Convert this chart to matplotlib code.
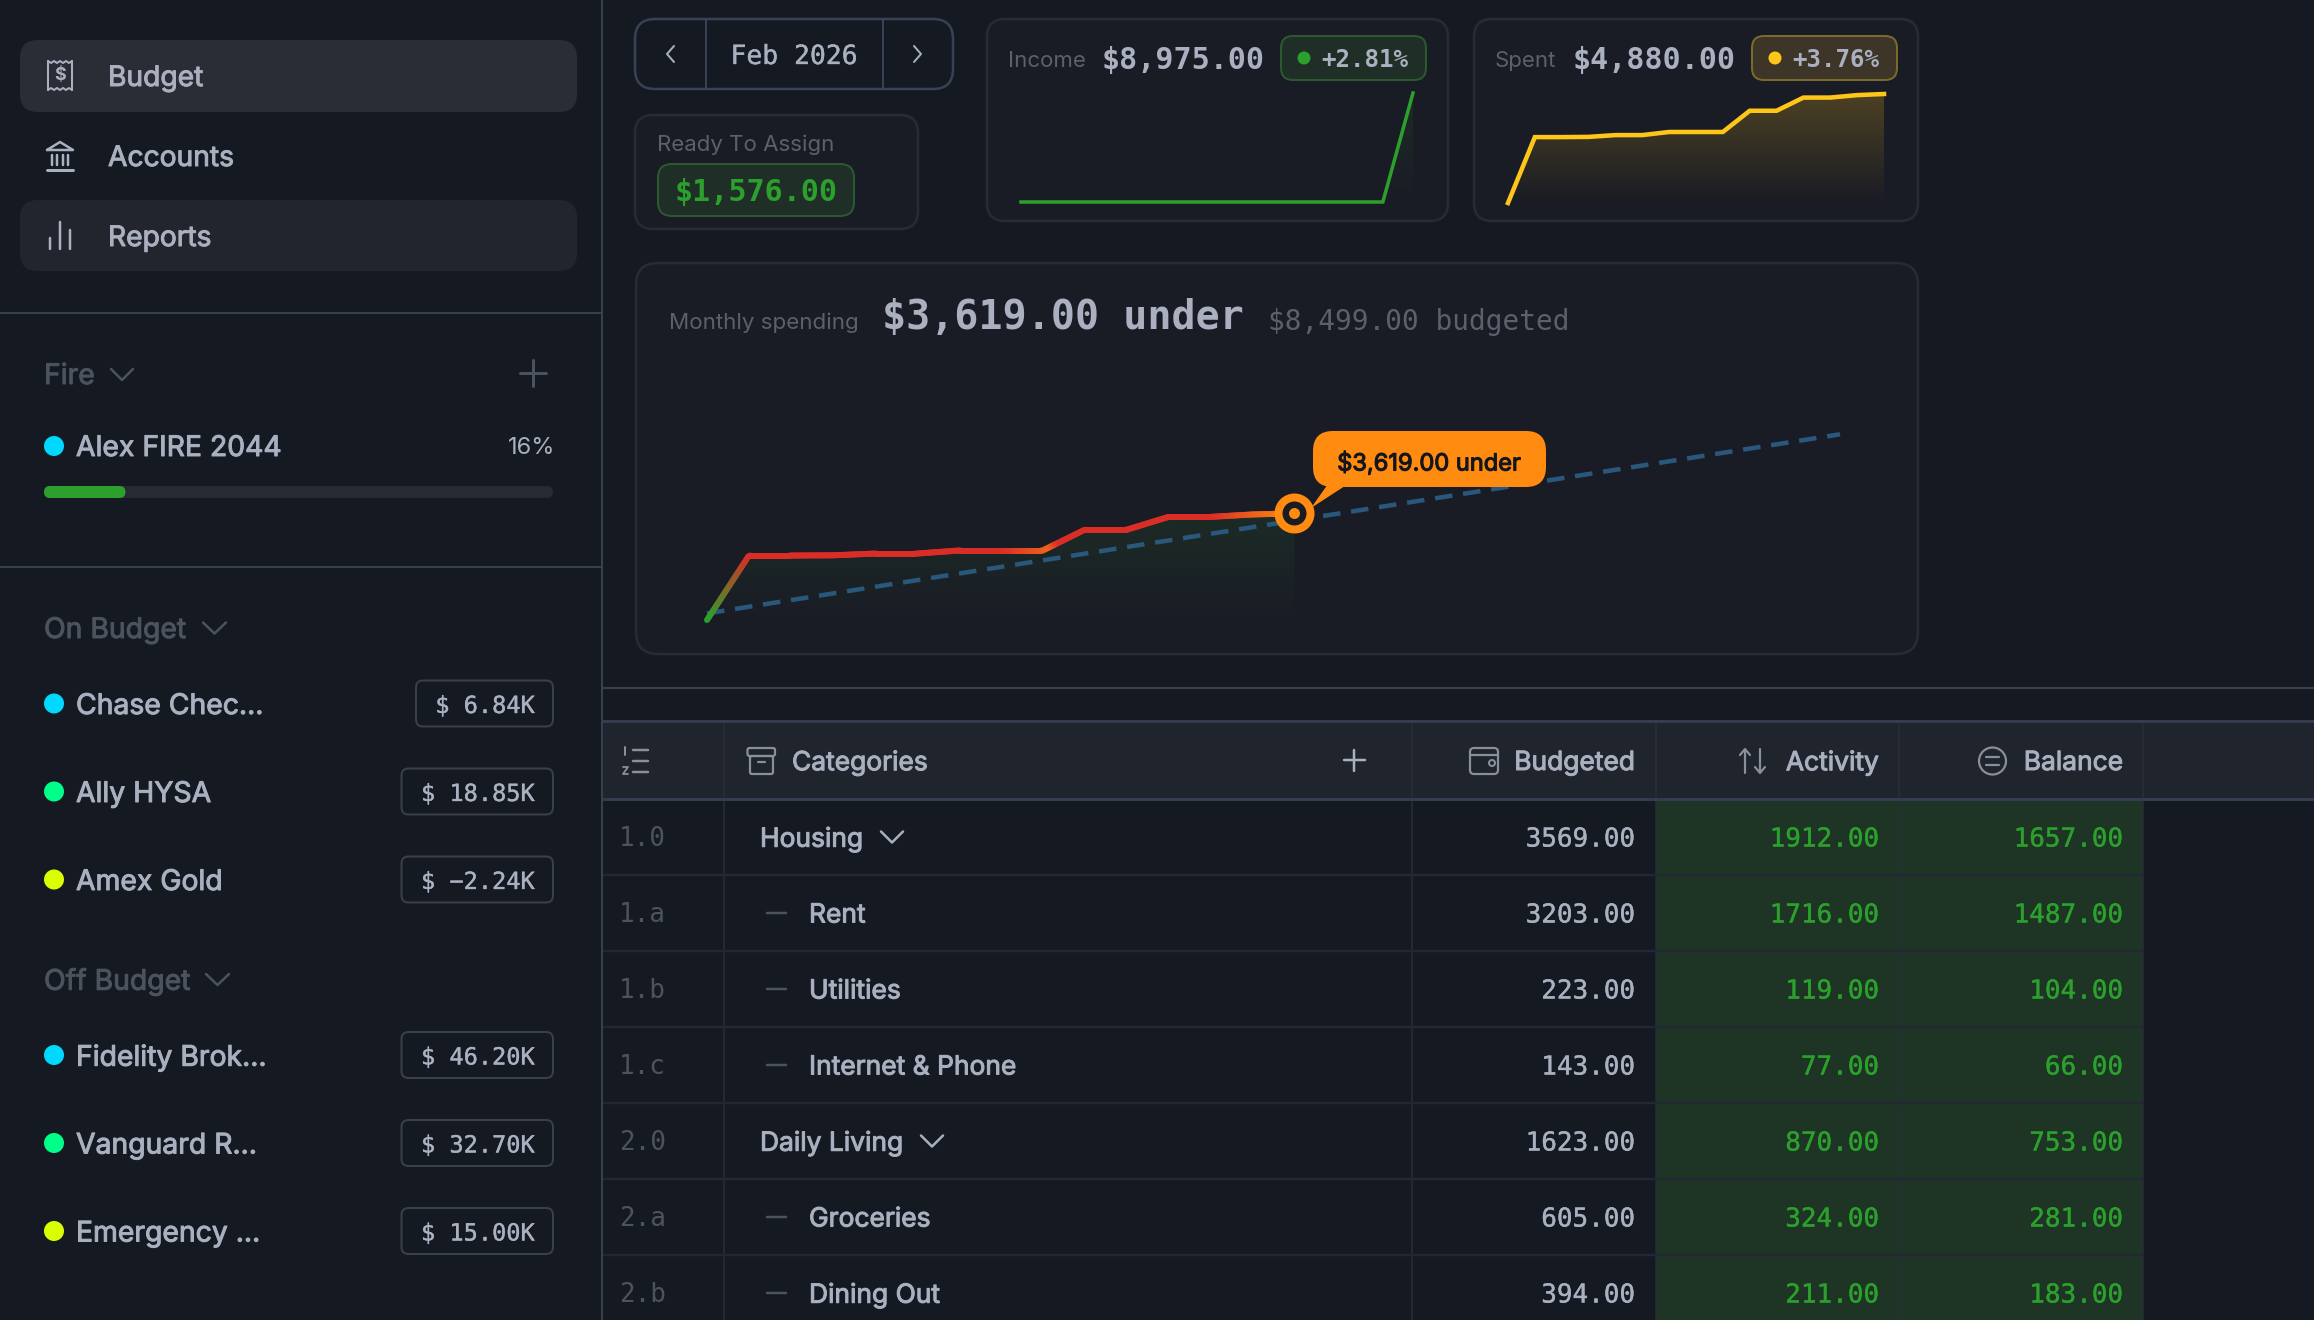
import numpy as np
import matplotlib
matplotlib.use('Agg')
import matplotlib.pyplot as plt
import matplotlib.patheffects as pe
from matplotlib.collections import LineCollection
from matplotlib.colors import to_rgb, LinearSegmentedColormap
from matplotlib.patches import Circle, FancyBboxPatch, Polygon, Rectangle

W, H = 2314, 1320

# chart data
income_daily = [0, 0, 0, 0, 0, 0, 0, 0, 0, 0, 0, 0, 0, 8975]
spent_daily = [0, 2950, 2950, 2960, 3040, 3040, 3180, 3180, 3180, 4130, 4130, 4720, 4720, 4830, 4880]
budget_daily = [304, 607, 911, 1214, 1518, 1821, 2125, 2428, 2732, 3035, 3339, 3642, 3946, 4250,
                4553, 4857, 5160, 5464, 5767, 6071, 6374, 6678, 6981, 7285, 7588, 7892, 8195, 8499]

# table data
row_index = ['1.0', '1.a', '1.b', '1.c', '2.0', '2.a', '2.b']
row_names = ['Housing', 'Rent', 'Utilities', 'Internet & Phone', 'Daily Living', 'Groceries', 'Dining Out']
budgeted = [3569, 3203, 223, 143, 1623, 605, 394]
activity = [1912, 1716, 119, 77, 870, 324, 211]
balance = [1657, 1487, 104, 66, 753, 281, 183]

# sidebar data
on_budget_names = ['Chase Chec…', 'Ally HYSA', 'Amex Gold']
on_budget_amounts = ['$ 6.84K', '$ 18.85K', '$ −2.24K']
off_budget_names = ['Fidelity Brok…', 'Vanguard R…', 'Emergency …']
off_budget_amounts = ['$ 46.20K', '$ 32.70K', '$ 15.00K']
account_dots = ['#00d9ff', '#00ff88', '#d9ff00']
fire_percent = 16

BG = '#151922'
CARD = '#1a1c25'
CARD_EDGE = '#272b35'
LINE = '#3a3f4d'
TEXT = '#aab0bf'
MUTED = '#4d525f'
GREEN = '#2ca02c'
YELLOW = '#ffc61a'
ORANGE = '#ff8c11'
RED = '#d92d26'
SANS = 'Inter'
MONO = 'DejaVu Sans Mono'

fig = plt.figure(figsize=(W / 100, H / 100), dpi=100, facecolor=BG)


def px_axes(x0, x1, y0, y1, z=1):
    a = fig.add_axes([x0 / W, 1 - y1 / H, (x1 - x0) / W, (y1 - y0) / H], zorder=z)
    a.axis('off')
    return a


ax = px_axes(0, W, 0, H)
ax.set_xlim(0, W)
ax.set_ylim(H, 0)


def px(v):
    return v * 0.72


def box(x0, y0, x1, y1, r, fc, ec='none', lw=2, a=None, z=2):
    (a or ax).add_patch(FancyBboxPatch((x0 + r, y0 + r), x1 - x0 - 2 * r, y1 - y0 - 2 * r,
                                       boxstyle='round,pad=%s,rounding_size=%s' % (r, r),
                                       fc=fc, ec=ec, lw=px(lw), zorder=z))


def ln(xs, ys, c=TEXT, lw=2.5, z=4):
    ax.plot(xs, ys, color=c, lw=px(lw), zorder=z, solid_capstyle='round', solid_joinstyle='round')


def txt(x, y, s, size, c=TEXT, fam=SANS, w='normal', ha='left', a=None, stroke=0):
    t = (a or ax).text(x, y, s, fontsize=size, color=c, family=fam, fontweight=w, ha=ha,
                       va='center_baseline', zorder=6)
    if stroke:
        # the installed faces look thinner than the reference
        t.set_path_effects([pe.withStroke(linewidth=stroke, foreground=c)])


def chevron_down(x0, x1, y, c=MUTED):
    ln([x0, (x0 + x1) / 2, x1], [y - 5, y + 6, y - 5], c, 2.5)


def gradient_fill(a, xs, ys, color, top_alpha, base, ymax):
    """fill under a line, fading out towards the bottom"""
    rgb = np.ones((256, 1, 4))
    rgb[:, 0, :3] = to_rgb(color)
    rgb[:, 0, 3] = np.linspace(top_alpha, 0, 256)
    im = a.imshow(rgb, extent=[xs[0], xs[-1], base, ymax], aspect='auto', origin='upper', zorder=1)
    poly = Polygon(list(zip(xs, ys)) + [(xs[-1], base), (xs[0], base)], closed=True, fc='none', ec='none',
                   transform=a.transData)
    a.add_patch(poly)
    im.set_clip_path(poly)


# ---- sidebar ----
box(20, 40, 577, 112, 18, '#2a2d36')
box(20, 200, 577, 271, 18, '#22252d')
ln([602, 602], [0, H], LINE, 2)
ln([0, 602], [312.5, 312.5], LINE, 2)
ln([0, 602], [567, 567], LINE, 2)

for y, name in zip([75.5, 155.5, 235.5], ['Budget', 'Accounts', 'Reports']):
    txt(108, y, name, 20.3, stroke=0.7)

# receipt icon
zig_x = np.arange(48, 73, 3)
zig_top = [61 + (i % 2) * 2 for i in range(len(zig_x))]
zig_bot = [90 - (i % 2) * 2 for i in range(len(zig_x))]
ln(zig_x, zig_top, TEXT, 2)
ln(zig_x, zig_bot, TEXT, 2)
ln([48, 48], [61, 90], TEXT, 2)
ln([72, 72], [61, 90], TEXT, 2)
ax.text(60, 76, '$', fontsize=13, color=TEXT, family=SANS, fontweight='bold', ha='center', va='center', zorder=5)
# bank icon
ln([47, 60, 73, 47], [150, 142, 150, 150], TEXT, 2.5)
for x in [52, 57, 63, 68]:
    ln([x, x], [155, 165], TEXT, 2.5)
ln([47, 73], [170, 170], TEXT, 3)
# bars icon
ln([49.5, 49.5], [238, 249], TEXT, 2.5)
ln([60, 60], [222, 249], TEXT, 2.5)
ln([70, 70], [230, 249], TEXT, 2.5)

txt(44, 373.5, 'Fire', 20.4, MUTED, stroke=0.7)
chevron_down(111, 133, 374)
ln([533, 533], [360, 386], MUTED, 3)
ln([520, 546], [373, 373], MUTED, 3)

ax.add_patch(Circle((54, 446), 10, fc=account_dots[0], ec='none', zorder=4))
txt(76, 445.5, 'Alex FIRE 2044', 20.4, stroke=0.7)
txt(555, 445, '%d%%' % fire_percent, 17, ha='right')
bar_x0, bar_x1 = 44, 553
box(bar_x0, 486, bar_x1, 498, 6, '#272a33')
box(bar_x0, 486, bar_x0 + (bar_x1 - bar_x0) * fire_percent / 100, 498, 6, GREEN, z=3)


def account_group(title, chev, title_y, names, amounts, first_y):
    txt(44, title_y, title, 20.4, MUTED, stroke=0.7)
    chevron_down(chev, chev + 23, title_y)
    for i, (name, amount) in enumerate(zip(names, amounts)):
        y = first_y + 88 * i
        ax.add_patch(Circle((54, y), 10, fc=account_dots[i], ec='none', zorder=4))
        txt(76, y, name, 20.4, stroke=0.7)
        left = 416 if len(amount) == 7 else 401.5
        box(left, y - 23, 553, y + 23, 7, 'none', LINE, 2)
        txt(535, y, amount, 17, ha='right', fam=MONO, stroke=0.25)


account_group('On Budget', 203, 627.5, on_budget_names, on_budget_amounts, 703.5)
account_group('Off Budget', 206, 979, off_budget_names, off_budget_amounts, 1055)

# ---- month switcher ----
box(635, 19, 953, 89, 20, 'none', '#3a4154', 2.5)
ln([706, 706], [20, 88], '#3a4154', 2)
ln([883, 883], [20, 88], '#3a4154', 2)
ln([674, 667, 674], [46, 54, 62], TEXT, 2)
ln([914, 921, 914], [46, 54, 62], TEXT, 2)
txt(794, 54, 'Feb 2026', 19, ha='center', fam=MONO, stroke=0.25)

# ---- ready to assign ----
box(635, 115, 918, 229, 18, CARD, CARD_EDGE, 2.5)
txt(657, 143, 'Ready To Assign', 16, '#5c606c')
box(658, 164, 854, 216, 14, '#1f2f27', '#2a5a2e', 2)
txt(756, 189, '$1,576.00', 21.6, GREEN, MONO, 'bold', 'center')

# ---- income / spent cards ----
box(987, 19, 1448, 221, 18, CARD, CARD_EDGE, 2.5)
box(1474, 19, 1918, 221, 18, CARD, CARD_EDGE, 2.5)
txt(1008, 59, 'Income', 16, '#5c606c')
txt(1102, 57, '$8,975.00', 21.6, TEXT, MONO, 'bold')
txt(1495, 59, 'Spent', 16, '#5c606c')
txt(1573, 57, '$4,880.00', 21.6, TEXT, MONO, 'bold')
box(1281, 36, 1426, 80, 12, '#1f2f27', '#2a5a2e', 2)
box(1752, 36, 1897, 80, 12, '#3d3528', '#7a6a2c', 2)
ax.add_patch(Circle((1304, 58), 6.5, fc=GREEN, ec='none', zorder=4))
ax.add_patch(Circle((1775, 58), 6.5, fc=YELLOW, ec='none', zorder=4))
txt(1321, 57.5, '+2.81%', 17.4, TEXT, MONO, 'bold')
txt(1792, 57.5, '+3.76%', 17.4, TEXT, MONO, 'bold')

inc_ax = px_axes(1021, 1413, 93, 202, 2)
inc_x = np.arange(len(income_daily))
gradient_fill(inc_ax, inc_x, income_daily, GREEN, 0.12, 0, max(income_daily))
inc_ax.plot(inc_x, income_daily, color=GREEN, lw=px(3.5), clip_on=False, zorder=3, solid_joinstyle='miter')
inc_ax.set_xlim(inc_x[0], inc_x[-1])
inc_ax.set_ylim(0, max(income_daily))

sp_ax = px_axes(1508, 1884, 94, 203, 2)
sp_x = np.arange(len(spent_daily))
gradient_fill(sp_ax, sp_x, spent_daily, YELLOW, 0.22, 0, max(spent_daily))
sp_ax.plot(sp_x, spent_daily, color=YELLOW, lw=px(4.5), clip_on=False, zorder=3, solid_joinstyle='miter')
sp_ax.set_xlim(sp_x[0], sp_x[-1])
sp_ax.set_ylim(0, max(spent_daily))

# ---- monthly spending ----
box(636, 263, 1918, 654, 22, CARD, CARD_EDGE, 2.5)
txt(669, 321, 'Monthly spending', 16.1, '#5c606c')
txt(882, 313.5, '$3,619.00 under', 28.8, TEXT, MONO, 'bold')
txt(1268, 319, '$8,499.00 budgeted', 20, '#5c606c', MONO)

ch = px_axes(707, 1840, 434.3, 620, 2)
days = np.arange(1, len(spent_daily) + 1)
gradient_fill(ch, days, spent_daily, GREEN, 0.12, 0, max(spent_daily))
ch.plot(np.arange(1, len(budget_daily) + 1), budget_daily, color='#29587c', lw=px(4.5), dashes=(3.9, 2.4),
        clip_on=False, zorder=2)
# spending line: green start, red body, orange near the end of each rise
cmap = LinearSegmentedColormap.from_list('spend', [(0, GREEN), (0.07, RED), (0.50, RED), (0.58, '#f0601c'),
                                                  (0.60, RED), (0.86, RED), (1, ORANGE)])
t = np.linspace(0, 1, 300)
lx = 1 + t * (len(spent_daily) - 1)
ly = np.interp(lx, days, spent_daily)
pts = np.column_stack([lx, ly]).reshape(-1, 1, 2)
segs = np.concatenate([pts[:-1], pts[1:]], axis=1)
lc = LineCollection(segs, colors=cmap(t[:-1]), linewidths=px(6), zorder=3, capstyle='round')
lc.set_clip_on(False)
ch.add_collection(lc)
ch.scatter([days[-1]], [spent_daily[-1]], s=(px(40)) ** 2, c=ORANGE, clip_on=False, zorder=7, linewidths=0)
ch.scatter([days[-1]], [spent_daily[-1]], s=(px(24)) ** 2, c=CARD, clip_on=False, zorder=8, linewidths=0)
ch.scatter([days[-1]], [spent_daily[-1]], s=(px(11)) ** 2, c=ORANGE, clip_on=False, zorder=9, linewidths=0)
ch.set_xlim(1, 28)
ch.set_ylim(0, 8499)

# tooltip sits above the chart
top = fig.add_axes([0, 0, 1, 1], zorder=5)
top.axis('off')
top.set_xlim(0, W)
top.set_ylim(H, 0)
box(1313, 431, 1546, 487, 20, ORANGE, a=top)
top.add_patch(Polygon([(1328, 484), (1348, 484), (1311, 508)], closed=True, fc=ORANGE, ec='none', zorder=2))
txt(1429, 461, '$3,619.00 under', 17, '#14161c', ha='center', a=top, stroke=0.8)

# ---- table ----
ln([602, W], [688, 688], LINE, 2)
HEAD_Y0, HEAD_Y1 = 721, 799
ROW_H = 76
col_x = [723.5, 1412, 1656, 1899, 2143]
ax.add_patch(Rectangle((603, HEAD_Y0), W - 603, HEAD_Y1 - HEAD_Y0, fc='#20242d', ec='none', zorder=1))
n_rows = len(row_names)
ax.add_patch(Rectangle((col_x[2], HEAD_Y1), col_x[4] - col_x[2], ROW_H * n_rows, fc='#1e3526', ec='none', zorder=1))
for x in col_x:
    ln([x, x], [HEAD_Y0, H], '#2a2e39', 1.5, z=2)
for i in range(1, n_rows):
    ln([603, col_x[4]], [HEAD_Y1 + ROW_H * i] * 2, '#232731', 2.5, z=2)
ln([603, W], [HEAD_Y0, HEAD_Y0], '#353c50', 3, z=3)
ln([603, W], [HEAD_Y1, HEAD_Y1], '#353c50', 3, z=3)

right_budget, right_activity, right_balance = 1635, 1879, 2123
head_y = 760
txt(792, head_y, 'Categories', 19, stroke=0.7)
txt(right_budget, head_y, 'Budgeted', 19, ha='right', stroke=0.7)
txt(right_activity, head_y, 'Activity', 19, ha='right', stroke=0.7)
txt(right_balance, head_y, 'Balance', 19, ha='right', stroke=0.7)
ln([1354, 1354], [750, 771], TEXT, 2.5)
ln([1344, 1365], [760, 760], TEXT, 2.5)

# numbered list icon
for y in [750, 761, 772]:
    ln([633, 648], [y, y], '#8a8f9c', 2.5)
ln([625, 625], [747, 755], '#8a8f9c', 2)
ln([623, 628, 623, 628], [767, 767, 774, 774], '#8a8f9c', 1.8)
# archive box icon
box(747.5, 748, 775, 756, 2, 'none', '#8a8f9c', 2.2, z=4)
box(750, 756, 773, 774, 2, 'none', '#8a8f9c', 2.2, z=4)
ln([758, 765], [762, 762], '#8a8f9c', 2.2)
# wallet icon
box(1470, 748, 1498, 774, 4, 'none', '#8a8f9c', 2.2, z=4)
ln([1470, 1498], [755, 755], '#8a8f9c', 2.2)
ax.add_patch(Circle((1492, 763), 3, fc='none', ec='#8a8f9c', lw=px(2), zorder=4))
# sort arrows icon
ln([1745, 1745], [750, 773], '#8a8f9c', 2.2)
ln([1740, 1745, 1750], [755, 749, 755], '#8a8f9c', 2.2)
ln([1760, 1760], [749, 772], '#8a8f9c', 2.2)
ln([1755, 1760, 1765], [767, 773, 767], '#8a8f9c', 2.2)
# circle equals icon
ax.add_patch(Circle((1992.5, 761), 13.5, fc='none', ec='#8a8f9c', lw=px(2.2), zorder=4))
ln([1986, 1999], [757, 757], '#8a8f9c', 2.2)
ln([1986, 1999], [765, 765], '#8a8f9c', 2.2)

chev_pos = {'Housing': 881, 'Daily Living': 921}
for i in range(n_rows):
    y = HEAD_Y1 + ROW_H * i + 37.5
    txt(619, y, row_index[i], 18.7, MUTED, MONO)
    name = row_names[i]
    if name in chev_pos:
        txt(760, y, name, 19, stroke=0.7)
        chevron_down(chev_pos[name], chev_pos[name] + 22, y, TEXT)
    else:
        ln([767, 786], [y, y], MUTED, 2.5)
        txt(809, y, name, 19, stroke=0.7)
    txt(right_budget, y, '%.2f' % budgeted[i], 18.7, TEXT, MONO, ha='right', stroke=0.25)
    txt(right_activity, y, '%.2f' % activity[i], 18.7, GREEN, MONO, ha='right', stroke=0.25)
    txt(right_balance, y, '%.2f' % balance[i], 18.7, GREEN, MONO, ha='right', stroke=0.25)

fig.savefig('out.png', dpi=100, facecolor=BG)
